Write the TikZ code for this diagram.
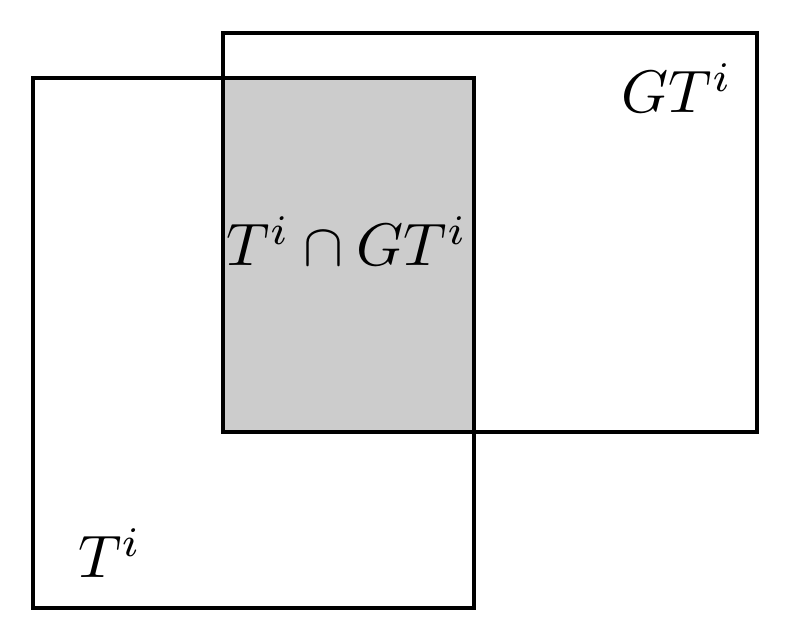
\documentclass[tikz,border=0pt]{standalone}
\usepackage{graphicx}
\begin{document}
\begin{tikzpicture}[x=1pt,y=-1pt,box/.style={line width=3.5pt},lab/.style={inner sep=0pt}]
\useasboundingbox (0,0) rectangle (791,641);
\fill[gray!40] (223,78) rectangle (474,432);
\draw[box] (33,78) rectangle (474,608);
\draw[box] (223,33) rectangle (757,432);
\node[lab] (g) at (677,88) {\scalebox{6}{$GT^i$}};
\node[lab] (c) at (347,241) {\scalebox{6}{$T^i\cap GT^i$}};
\node[lab] (t) at (110,553) {\scalebox{6}{$T^i$}};
\end{tikzpicture}
\end{document}
